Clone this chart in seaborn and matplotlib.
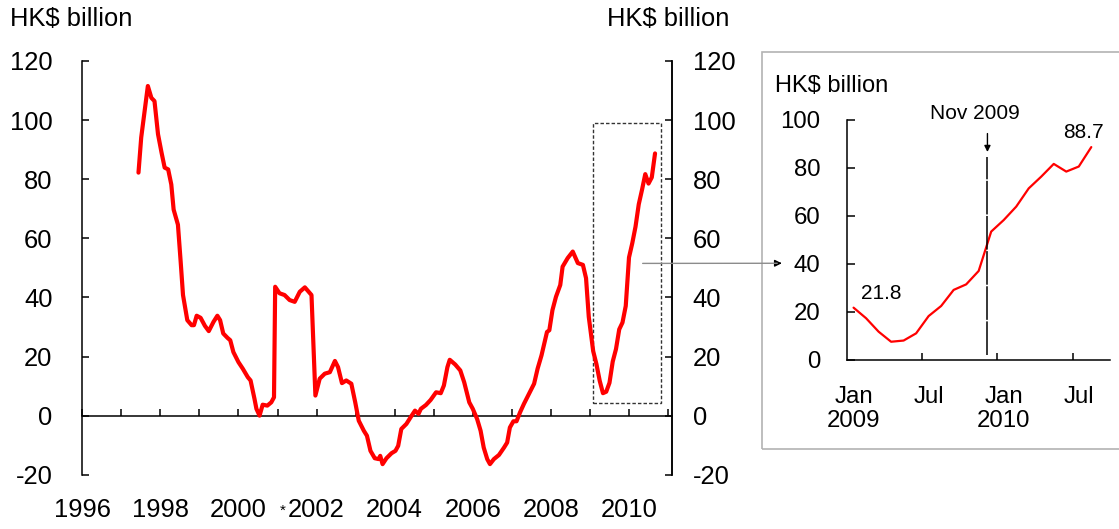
import numpy as np
import pandas as pd
import matplotlib
matplotlib.use('Agg')
import matplotlib.pyplot as plt
import seaborn as sns
from matplotlib.patches import Rectangle, ConnectionPatch

# main series, Jun 1997 - Dec 2008 (decimal year, HK$ billion)
main_dates = [
    1997.44, 1997.51, 1997.60, 1997.68, 1997.77, 1997.85, 1997.94,
    1998.03, 1998.11, 1998.20, 1998.28, 1998.34, 1998.45, 1998.52, 1998.58, 1998.69, 1998.80, 1998.86, 1998.93,
    1999.03, 1999.14, 1999.24, 1999.36, 1999.46, 1999.53, 1999.61, 1999.72, 1999.79, 1999.87, 2000.00,
    2000.11, 2000.24, 2000.31, 2000.41, 2000.46, 2000.54, 2000.62, 2000.74, 2000.84, 2000.91, 2000.94,
    2001.05, 2001.18, 2001.31, 2001.44, 2001.57, 2001.70, 2001.87, 2001.97,
    2002.08, 2002.21, 2002.34, 2002.47, 2002.55, 2002.65, 2002.76, 2002.89, 2002.99,
    2003.08, 2003.21, 2003.29, 2003.38, 2003.49, 2003.59, 2003.63, 2003.69, 2003.79, 2003.92,
    2004.02, 2004.09, 2004.17, 2004.30, 2004.42, 2004.52, 2004.61, 2004.67, 2004.80, 2004.92,
    2005.06, 2005.18, 2005.26, 2005.35, 2005.41, 2005.55, 2005.68, 2005.78, 2005.91, 2006.00,
    2006.11, 2006.20, 2006.28, 2006.37, 2006.44, 2006.54, 2006.67, 2006.80, 2006.88, 2006.95,
    2007.04, 2007.12, 2007.21, 2007.31, 2007.44, 2007.57, 2007.66, 2007.76, 2007.90, 2007.96,
    2008.04, 2008.13, 2008.24, 2008.30, 2008.43, 2008.56, 2008.69, 2008.82, 2008.90, 2008.97,
]
main_values = [
    82.2, 94.1, 103.2, 111.5, 107.5, 106.4, 95.2,
    89.0, 83.9, 83.3, 78.2, 69.7, 64.6, 52.1, 40.8, 32.3, 30.6, 30.6, 33.8,
    33.1, 30.4, 28.6, 31.7, 33.8, 32.3, 27.8, 26.3, 25.5, 21.5, 18.1,
    15.9, 13.0, 11.9, 5.7, 2.3, 0.0, 3.7, 3.4, 4.5, 6.2, 43.6,
    41.4, 40.8, 39.1, 38.5, 41.9, 43.4, 40.8, 6.8,
    12.5, 14.2, 14.7, 18.5, 16.4, 11.0, 11.9, 10.8, 4.5,
    -1.7, -5.1, -6.8, -11.9, -14.4, -14.7, -13.6, -16.4, -14.4, -12.7,
    -11.9, -10.2, -4.5, -2.8, -0.3, 1.7, 0.6, 2.3, 3.6, 5.3,
    7.9, 7.6, 10.2, 16.4, 18.9, 17.3, 15.3, 11.3, 4.5, 2.3,
    -1.1, -5.1, -10.8, -14.7, -16.4, -14.7, -13.3, -10.8, -9.1, -4.0,
    -1.9, -1.9, 1.1, 4.0, 7.4, 10.8, 15.9, 20.4, 28.3, 28.9,
    35.7, 40.2, 44.2, 50.4, 53.3, 55.5, 51.6, 51.0, 46.5, 33.4,
]

# monthly values Jan 2009 - Aug 2010 (shown in the inset)
inset_months = ['Jan 2009', 'Feb 2009', 'Mar 2009', 'Apr 2009', 'May 2009', 'Jun 2009',
                'Jul 2009', 'Aug 2009', 'Sep 2009', 'Oct 2009', 'Nov 2009', 'Dec 2009',
                'Jan 2010', 'Feb 2010', 'Mar 2010', 'Apr 2010', 'May 2010', 'Jun 2010',
                'Jul 2010', 'Aug 2010']
inset_values = [21.8, 17.4, 11.8, 7.6, 8.1, 11.1, 18.3, 22.5, 29.2, 31.5,
                37.1, 53.5, 58.3, 63.9, 71.5, 76.4, 81.7, 78.5, 80.6, 88.7]

year_labels = list(range(1996, 2011, 2))
year_ticks = list(range(1996, 2012))
y_ticks = list(range(-20, 121, 20))
inset_y_ticks = list(range(0, 101, 20))

zoom_box = (2009.07, 4.4, 2010.82, 99.1)   # dotted box round the inset period
event_label = 'Nov 2009'
event_x = 10.7

sns.set_theme(style='white')
plt.rcParams['font.family'] = ['Liberation Sans', 'DejaVu Sans']
plt.rcParams['axes.unicode_minus'] = False
plt.rcParams['axes.edgecolor'] = 'black'
plt.rcParams['text.color'] = 'black'
plt.rcParams['xtick.color'] = 'black'
plt.rcParams['ytick.color'] = 'black'

fig = plt.figure(figsize=(11.19, 5.29), dpi=100)

# ---- main chart ----
ax = fig.add_axes([0.0735, 0.1025, 0.5270, 0.7824])
main = pd.DataFrame({
    'date': main_dates + [2009 + (i + 1) / 12 for i in range(len(inset_values))],
    'value': main_values + inset_values,
})
sns.lineplot(data=main, x='date', y='value', ax=ax, color='#ff0000', lw=3.0,
             sort=False, estimator=None)
ax.set_xlim(1996, 2011.1)
ax.set_ylim(-20, 120)
ax.set_xlabel('')
ax.set_ylabel('')
ax.patch.set_alpha(0)
for s in ['top', 'bottom']:
    ax.spines[s].set_visible(False)
for s in ['left', 'right']:
    ax.spines[s].set_linewidth(1.1)

ax.set_yticks(y_ticks)
ax.tick_params(axis='y', direction='in', length=5, width=1.1, labelsize=18.4,
               pad=21.5, left=True, right=False)
ax.set_xticks(year_labels)
ax.set_xticklabels([str(y) for y in year_labels])
ax.tick_params(axis='x', length=0, labelsize=18.4, pad=17)

ax2 = ax.twinx()
ax2.set_ylim(-20, 120)
ax2.set_yticks(y_ticks)
ax2.tick_params(axis='y', direction='in', length=5, width=1.1, labelsize=18.4,
                pad=15, right=True, left=False)
for s in ['top', 'bottom', 'left']:
    ax2.spines[s].set_visible(False)
ax2.spines['right'].set_linewidth(1.1)

# zero line carrying the year tick marks
sec = ax.secondary_xaxis(20 / 140)
sec.xaxis.set_ticks_position('bottom')
sec.set_xticks(year_ticks)
sec.tick_params(axis='x', direction='in', length=5, width=1.1, bottom=True,
                labelbottom=False)
sec.spines['bottom'].set_linewidth(1.1)

ax.annotate('*', xy=(2001.14, 0), xycoords=('data', 'axes fraction'),
            xytext=(0, -21), textcoords='offset points', ha='center', va='top',
            fontsize=11)

x0, y0, x1, y1 = zoom_box
ax.add_patch(Rectangle((x0, y0), x1 - x0, y1 - y0, fill=False, ec='#333333',
                       lw=1.0, ls=(0, (2.5, 1.5)), zorder=1))

fig.text(10 / 1119, 1 - 19 / 529, 'HK$ billion', fontsize=18.4, va='center', ha='left')
fig.text(607 / 1119, 1 - 19 / 529, 'HK$ billion', fontsize=18.4, va='center', ha='left')

# ---- inset frame ----
fig.add_artist(Rectangle((0.6812, 0.1512), 0.33, 0.7499, transform=fig.transFigure,
                         fill=False, ec='#b3b3b3', lw=1.2))
fig.text(775 / 1119, 1 - 86 / 529, 'HK$ billion', fontsize=17, va='center', ha='left')

# ---- inset chart ----
axi = fig.add_axes([0.7572, 0.3195, 0.2348, 0.4537])
inset = pd.DataFrame({'pos': np.arange(len(inset_values)), 'value': inset_values})
sns.lineplot(data=inset, x='pos', y='value', ax=axi, color='#ff0000', lw=1.6)
axi.set_xlim(-0.5, 20.5)
axi.set_ylim(0, 100)
axi.set_xlabel('')
axi.set_ylabel('')
axi.patch.set_alpha(0)
for s in ['top', 'right']:
    axi.spines[s].set_visible(False)
for s in ['left', 'bottom']:
    axi.spines[s].set_linewidth(1.1)

axi.set_yticks(inset_y_ticks)
axi.tick_params(axis='y', direction='in', length=6, width=1.1, labelsize=17.3,
                pad=19.5, left=True)
lab_pos = [i for i, m in enumerate(inset_months) if m.startswith(('Jan', 'Jul'))]
lab_txt = [m.replace(' ', '\n') if m.startswith('Jan') else m.split()[0]
           for m in inset_months if m.startswith(('Jan', 'Jul'))]
axi.set_xticks(lab_pos)
axi.set_xticklabels(lab_txt)
axi.set_xticks([p - 0.5 for p in lab_pos if p > 0], minor=True)
axi.tick_params(axis='x', which='major', length=0, labelsize=17.3, pad=19)
axi.tick_params(axis='x', which='minor', direction='in', length=5, width=1.1, bottom=True)
for t in axi.get_xticklabels():
    t.set_linespacing(1.12)

axi.vlines(event_x, 2, 84.7, color='black', lw=1.1, linestyles=[(0, (22, 1))])
axi.annotate('', xy=(event_x, 85.5), xytext=(event_x, 95.5),
             arrowprops=dict(arrowstyle='-|>', color='black', lw=1, mutation_scale=9),
             annotation_clip=False)
axi.text(9.68, 102.8, event_label, fontsize=15, ha='center', va='center', clip_on=False)
axi.text(2.2, 27.5, f'{inset_values[0]}', fontsize=15, ha='center', va='center')
axi.text(18.35, 94.7, f'{inset_values[-1]}', fontsize=15, ha='center', va='center',
         clip_on=False)

# connector from dotted box to the inset
con = ConnectionPatch(xyA=(2010.35, 51.5), coordsA=ax.transData,
                      xyB=(-6.1, 40.3), coordsB=axi.transData,
                      color='#8c8c8c', lw=1)
fig.add_artist(con)
axi.annotate('', xy=(-5.52, 40.3), xytext=(-6.2, 40.3),
             arrowprops=dict(arrowstyle='-|>', color='black', lw=1, mutation_scale=10),
             annotation_clip=False)

fig.savefig('out.png', dpi=100)
